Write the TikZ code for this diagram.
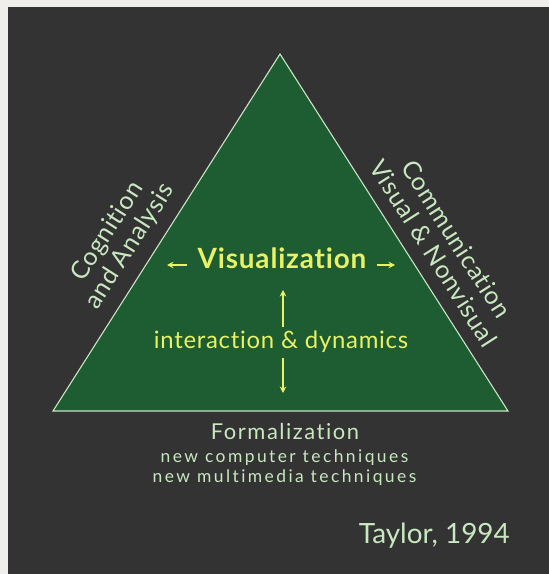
\documentclass[tikz,border=0pt]{standalone}
\usepackage{fontspec}
\setmainfont{Lato}[Ligatures={NoCommon}]
\usetikzlibrary{arrows.meta}
\definecolor{outerbg}{RGB}{240,238,235}
\definecolor{darkbg}{RGB}{51,51,51}
\definecolor{trigreen}{RGB}{30,92,50}
\definecolor{triedge}{RGB}{200,228,196}
\definecolor{yel}{RGB}{232,242,100}
\definecolor{pale}{RGB}{200,232,192}
\newcommand{\track}[1]{\addfontfeatures{LetterSpace=#1}}
\tikzset{
  yeltext/.style={text=yel, inner sep=0pt, anchor=base},
  paletext/.style={text=pale, inner sep=0pt, anchor=base},
  sidelabel/.style={text=pale, inner sep=0pt, align=center, font=\fontsize{25}{27}\selectfont\track{3}},
  yelarrow/.style={draw=yel, line width=1.1bp, -{Stealth[length=6.5bp,width=6.5bp]}},
}
\begin{document}
\begin{tikzpicture}[x=1bp,y=-1bp]
\fill[outerbg] (0,0) rectangle (549,574);
\fill[darkbg] (8,7) rectangle (549,574);
\useasboundingbox (0,0) rectangle (549,574);
\coordinate (apex) at (280,54);
\coordinate (bl) at (53,411);
\coordinate (br) at (508,411);
\filldraw[fill=trigreen, draw=triedge, line width=1.1bp, line join=miter] (apex) -- (br) -- (bl) -- cycle;

\node[yeltext, font=\fontsize{28}{30}\selectfont\bfseries\track{3}] (vis) at (282,268) {Visualization};
\node[yeltext, font=\fontsize{24}{28}\selectfont\track{3}] (inter) at (281,348) {interaction \& dynamics};

\coordinate (la1) at (187,265); \coordinate (la2) at (167,265);
\coordinate (ra1) at (377,265); \coordinate (ra2) at (395,265);
\coordinate (ua1) at (283,327); \coordinate (ua2) at (283,290);
\coordinate (da1) at (283,358); \coordinate (da2) at (283,393);
\draw[yelarrow] (la1) -- (la2);
\draw[yelarrow] (ra1) -- (ra2);
\draw[yelarrow] (ua1) -- (ua2);
\draw[yelarrow] (da1) -- (da2);

\node[paletext, font=\fontsize{22}{24}\selectfont\track{7}] (form) at (285,439) {Formalization};
\node[paletext, font=\fontsize{17.5}{20}\selectfont\track{14}] (nct) at (284.5,462) {new computer techniques};
\node[paletext, font=\fontsize{17.5}{20}\selectfont\track{14}] (nmt) at (284.5,482) {new multimedia techniques};
\node[paletext, anchor=base east, font=\fontsize{28}{30}\selectfont] (taylor) at (510,543) {Taylor, 1994};

\node[sidelabel, rotate=57.5] (cog) at (119,239) {Cognition\\and Analysis};
\node[sidelabel, rotate=-57.5] (com) at (445,246) {Communication\\Visual \& Nonvisual};
\end{tikzpicture}
\end{document}
